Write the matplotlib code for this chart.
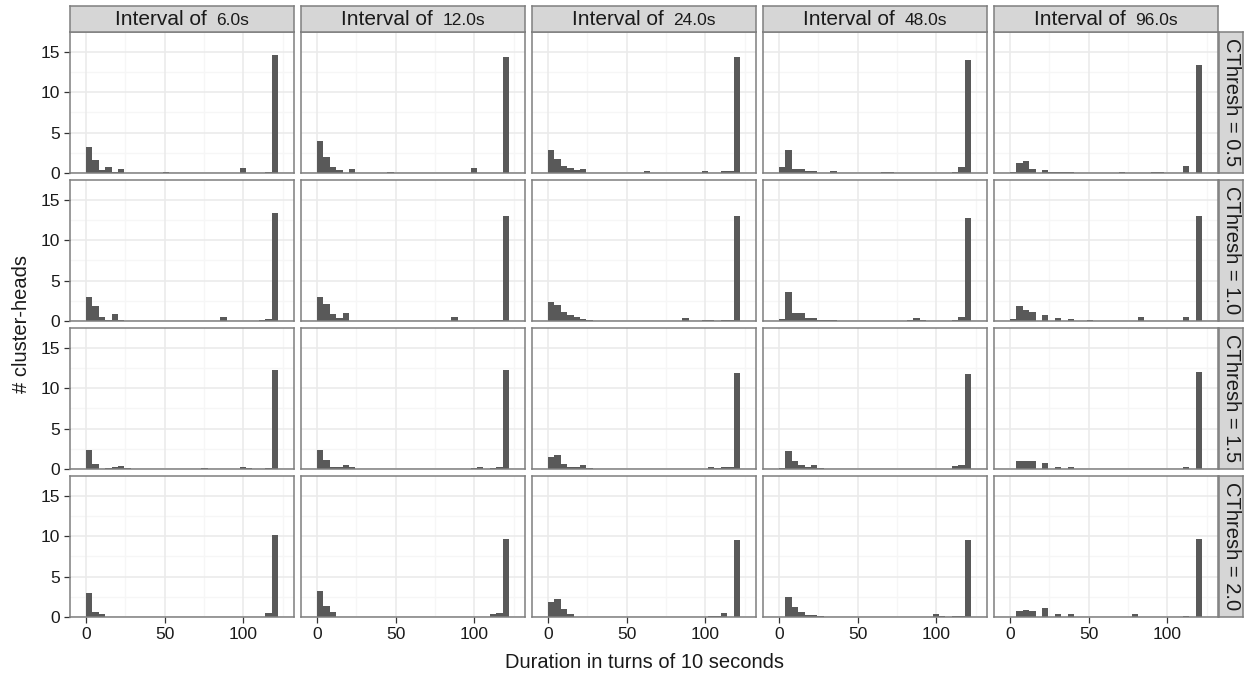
import numpy as np
import matplotlib
matplotlib.use("Agg")
import matplotlib.pyplot as plt

plt.rcParams['font.family'] = ['Liberation Sans', 'DejaVu Sans']

# ---- data -------------------------------------------------------------
intervals = ["6.0s", "12.0s", "24.0s", "48.0s", "96.0s"]
cthresh = ["0.5", "1.0", "1.5", "2.0"]
x_ticks = [0, 50, 100]
y_ticks = [0, 5, 10, 15]
bin_edges = np.linspace(0, 122, 31)   # 30 histogram bins

# CThresh = 0.5
ct05_i6 = [3.2, 1.55, 0.35, 0.78, 0.1, 0.5, 0, 0, 0, 0, 0, 0.05, 0.15, 0, 0, 0, 0, 0, 0, 0, 0, 0, 0, 0, 0.65, 0, 0, 0, 0.12, 14.6]
ct05_i12 = [4.0, 1.95, 0.75, 0.43, 0, 0.5, 0.05, 0, 0, 0, 0, 0.08, 0, 0, 0, 0, 0, 0, 0, 0, 0, 0, 0, 0.05, 0.62, 0, 0.05, 0.05, 0.05, 14.4]
ct05_i24 = [2.9, 1.73, 0.83, 0.62, 0.37, 0.45, 0.05, 0, 0.05, 0, 0, 0, 0, 0, 0, 0.25, 0, 0, 0, 0, 0, 0, 0.05, 0.05, 0.2, 0, 0, 0.2, 0.2, 14.3]
ct05_i48 = [0.7, 2.9, 0.5, 0.5, 0.3, 0.2, 0.05, 0.05, 0.25, 0, 0, 0, 0, 0, 0, 0, 0.08, 0.08, 0, 0, 0, 0, 0.05, 0.05, 0, 0, 0, 0.15, 0.7, 14.0]
ct05_i96 = [0.15, 1.2, 1.45, 0.5, 0.05, 0.33, 0.1, 0.12, 0.12, 0.12, 0, 0, 0.05, 0.05, 0, 0, 0, 0.12, 0, 0, 0, 0, 0.1, 0.1, 0, 0, 0, 0.83, 0, 13.4]
# CThresh = 1.0
ct10_i6 = [2.93, 1.8, 0.54, 0.15, 0.83, 0.08, 0, 0, 0, 0, 0, 0, 0, 0, 0, 0, 0, 0, 0, 0, 0, 0.45, 0, 0, 0, 0.05, 0.05, 0.1, 0.25, 13.4]
ct10_i12 = [2.93, 2.15, 0.87, 0.33, 0.95, 0.05, 0, 0, 0, 0, 0, 0, 0, 0, 0, 0, 0, 0, 0, 0.05, 0.05, 0.45, 0, 0, 0, 0, 0, 0.1, 0.1, 13.0]
ct10_i24 = [2.3, 2.0, 1.07, 0.75, 0.5, 0.25, 0.1, 0.05, 0, 0, 0, 0, 0, 0, 0, 0, 0, 0, 0, 0.05, 0.05, 0.42, 0.05, 0, 0.1, 0.1, 0, 0.17, 0.17, 13.0]
ct10_i48 = [0.2, 3.6, 1.03, 1.03, 0.33, 0.33, 0.1, 0.1, 0.1, 0.03, 0.03, 0.03, 0.03, 0.03, 0.03, 0.03, 0.03, 0.03, 0.03, 0.03, 0.1, 0.33, 0.1, 0, 0.05, 0.05, 0, 0.15, 0.5, 12.8]
ct10_i96 = [0.2, 1.9, 1.4, 1.07, 0.05, 0.78, 0.05, 0.37, 0.05, 0.25, 0.05, 0.05, 0.1, 0.05, 0.05, 0, 0.05, 0.05, 0.05, 0.05, 0.54, 0, 0, 0.05, 0.05, 0, 0, 0.5, 0, 13.0]
# CThresh = 1.5
ct15_i6 = [2.3, 0.62, 0.05, 0.17, 0.25, 0.37, 0.17, 0.05, 0.05, 0, 0, 0, 0, 0, 0, 0, 0, 0, 0.1, 0, 0, 0.05, 0, 0, 0.25, 0.1, 0, 0.05, 0.17, 12.3]
ct15_i12 = [2.3, 1.07, 0.25, 0.25, 0.5, 0.2, 0.05, 0, 0, 0, 0, 0, 0, 0, 0, 0, 0, 0, 0, 0, 0, 0, 0, 0, 0.1, 0.25, 0, 0.1, 0.25, 12.2]
ct15_i24 = [1.5, 1.7, 0.62, 0.3, 0.3, 0.54, 0.12, 0, 0, 0, 0, 0, 0, 0, 0, 0, 0, 0, 0, 0, 0, 0, 0, 0, 0.05, 0.25, 0.17, 0.3, 0.3, 11.9]
ct15_i48 = [0.1, 2.2, 1.03, 0.54, 0.25, 0.54, 0.17, 0.05, 0, 0, 0, 0, 0, 0, 0, 0, 0, 0, 0, 0, 0, 0, 0.05, 0.05, 0.05, 0, 0, 0.4, 0.54, 11.8]
ct15_i96 = [0, 1.03, 1.03, 1.03, 0.05, 0.7, 0.05, 0.25, 0.05, 0.2, 0, 0, 0.05, 0.05, 0, 0, 0.05, 0, 0.05, 0, 0.05, 0, 0, 0, 0.05, 0, 0.05, 0.3, 0, 12.0]
# CThresh = 2.0
ct20_i6 = [2.93, 0.58, 0.37, 0.05, 0, 0, 0, 0, 0, 0, 0, 0, 0, 0, 0, 0, 0, 0, 0, 0, 0, 0, 0, 0, 0, 0, 0, 0.05, 0.5, 10.1]
ct20_i12 = [3.2, 1.32, 0.58, 0.05, 0, 0, 0, 0, 0, 0, 0, 0, 0, 0, 0, 0, 0, 0, 0, 0, 0, 0, 0, 0, 0, 0, 0.05, 0.37, 0.54, 9.7]
ct20_i24 = [1.86, 2.2, 0.95, 0.41, 0, 0.05, 0, 0, 0, 0, 0, 0, 0, 0, 0, 0, 0, 0, 0, 0, 0, 0, 0, 0, 0, 0.1, 0.1, 0.5, 0.05, 9.5]
ct20_i48 = [0, 2.5, 1.2, 0.62, 0.29, 0.25, 0.1, 0, 0, 0, 0, 0, 0, 0, 0, 0, 0, 0, 0, 0, 0, 0, 0.05, 0, 0.33, 0.1, 0, 0.1, 0.12, 9.5]
ct20_i96 = [0, 0.8, 0.85, 0.7, 0, 1.1, 0.05, 0.33, 0, 0.33, 0.05, 0.05, 0, 0, 0.05, 0, 0.05, 0, 0, 0.37, 0, 0, 0.05, 0, 0.05, 0.05, 0, 0.1, 0, 9.7]

grid_counts = [
    [ct05_i6, ct05_i12, ct05_i24, ct05_i48, ct05_i96],
    [ct10_i6, ct10_i12, ct10_i24, ct10_i48, ct10_i96],
    [ct15_i6, ct15_i12, ct15_i24, ct15_i48, ct15_i96],
    [ct20_i6, ct20_i12, ct20_i24, ct20_i48, ct20_i96],
]

# ---- layout -----------------------------------------------------------
W, H = 1247, 675
fig = plt.figure(figsize=(W / 100, H / 100), dpi=100)
fig.patch.set_facecolor("white")

col_left = [70, 301, 532, 763, 994]
row_top = [32, 180, 328, 476]
pw, ph = 224, 141
strip_top, strip_h = 6, 26
rstrip_left, rstrip_w = 1219, 24

BAR = "#595959"
BORDER = "#7f7f7f"
STRIP = "#d6d6d6"
GRID_MAJ = "#ebebeb"
GRID_MIN = "#f6f6f6"
TEXT = "#1a1a1a"

widths = np.diff(bin_edges)

def frac_rect(l, t, w, h):
    return [l / W, 1 - (t + h) / H, w / W, h / H]

for r in range(4):
    for c in range(5):
        ax = fig.add_axes(frac_rect(col_left[c], row_top[r], pw, ph))
        ax.set_facecolor("white")
        ax.set_xlim(-10.2, 132.2)
        ax.set_ylim(0, 17.45)
        for gx in [25, 75, 125]:
            ax.axvline(gx, color=GRID_MIN, lw=1.0, zorder=0)
        for gy in [2.5, 7.5, 12.5]:
            ax.axhline(gy, color=GRID_MIN, lw=1.0, zorder=0)
        for gx in x_ticks:
            ax.axvline(gx, color=GRID_MAJ, lw=1.2, zorder=0.5)
        for gy in y_ticks:
            ax.axhline(gy, color=GRID_MAJ, lw=1.2, zorder=0.5)
        ax.bar(bin_edges[:-1], grid_counts[r][c], width=widths, align="edge",
               color=BAR, edgecolor="none", linewidth=0, zorder=2)
        for sp in ax.spines.values():
            sp.set_color(BORDER)
            sp.set_linewidth(1.1)
            sp.set_zorder(3)
        ax.set_xticks(x_ticks)
        ax.set_yticks(y_ticks)
        ax.tick_params(length=4.5, width=0.9, color="#333333", labelsize=12.5,
                       labelcolor=TEXT, pad=2.5)
        if r < 3:
            ax.tick_params(axis="x", length=0, labelbottom=False)
        else:
            ax.set_xticklabels([str(v) for v in x_ticks])
        if c > 0:
            ax.tick_params(axis="y", length=0, labelleft=False)
        else:
            ax.set_yticklabels([str(v) for v in y_ticks])

# top strips (text centred as a whole: "Interval of" + smaller value)
renderer = fig.canvas.get_renderer()
gap_px = 10
for c in range(5):
    sax = fig.add_axes(frac_rect(col_left[c], strip_top, pw, strip_h))
    sax.set_facecolor(STRIP)
    sax.set_xticks([]); sax.set_yticks([])
    for sp in sax.spines.values():
        sp.set_color(BORDER); sp.set_linewidth(1.1)
    t1 = fig.text(0, 1 - 19.5 / H, "Interval of", ha="left", va="center",
                  fontsize=15, color=TEXT)
    t2 = fig.text(0, 1 - 20.5 / H, intervals[c], ha="left", va="center",
                  fontsize=12.5, color=TEXT)
    w1 = t1.get_window_extent(renderer).width
    w2 = t2.get_window_extent(renderer).width
    total = w1 + gap_px + w2
    start = col_left[c] + pw / 2 - total / 2
    t1.set_x(start / W)
    t2.set_x((start + w1 + gap_px) / W)

# right strips
for r in range(4):
    sax = fig.add_axes(frac_rect(rstrip_left, row_top[r], rstrip_w, ph))
    sax.set_facecolor(STRIP)
    sax.set_xticks([]); sax.set_yticks([])
    for sp in sax.spines.values():
        sp.set_color(BORDER); sp.set_linewidth(1.1)
    sax.text(0.5, 0.5, f"CThresh = {cthresh[r]}", transform=sax.transAxes,
             ha="center", va="center", rotation=-90, fontsize=14.5, color=TEXT)

# axis titles
fig.text((col_left[0] + col_left[4] + pw) / 2 / W, 1 - 663 / H,
         "Duration in turns of 10 seconds", ha="center", va="center",
         fontsize=14.5, color=TEXT)
fig.text(22 / W, 1 - ((row_top[0] + row_top[3] + ph) / 2) / H,
         "# cluster-heads", ha="center", va="center", rotation=90,
         fontsize=14.5, color=TEXT)

fig.savefig("out.png", dpi=100, facecolor="white")
